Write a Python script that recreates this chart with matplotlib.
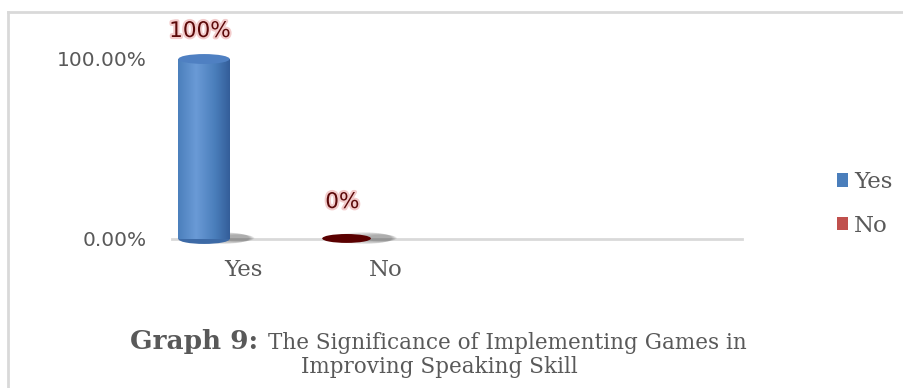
import numpy as np
import matplotlib
matplotlib.use("Agg")
import matplotlib.pyplot as plt
from matplotlib.patches import Ellipse
from matplotlib.lines import Line2D
import matplotlib.patheffects as pe

categories = ["Yes", "No", "", ""]
series_names = ["Yes", "No"]
values = [100, 0]
value_labels = ["100%", "0%"]
yticks = [0, 100]
ytick_labels = ["0.00%", "100.00%"]
colors = ["#4a7ebb", "#c0504d"]
disk_colors = ["#4f80c2", "#5a0000"]

fig = plt.figure(figsize=(9.04, 3.88), dpi=100)
ax = fig.add_axes([172/904, 1-239/388, (742-172)/904, (239-59)/388])

offset = -0.275
width = 0.36
ell_h = 5.5
for i, (v, c, dc, name) in enumerate(zip(values, colors, disk_colors, series_names)):
    xc = i + offset
    # shadow to the right of the base
    for k in range(6):
        ax.add_patch(Ellipse((xc + 0.12 + 0.025*k, 0.5), width*(1.1 - 0.1*k), ell_h*(1.2 - 0.1*k),
                             color="#303030", alpha=0.08, lw=0, clip_on=False, zorder=1))
    bars = ax.bar(xc, v, width=width, color=c, label=name, zorder=2, lw=0)
    if v > 0:
        b = bars[0]
        grad = np.linspace(0, 1, 200)
        shade = 1 - 0.55*np.abs(grad - 0.35)
        img = np.tile(shade, (2, 1))
        im = ax.imshow(img, extent=[xc - width/2, xc + width/2, 0, v], aspect="auto",
                       cmap=matplotlib.colors.LinearSegmentedColormap.from_list(
                           "cyl", ["#2e5590", "#4a7ebb", "#6a9ad6"]),
                       vmin=0.6, vmax=1.0, zorder=3)
        im.set_clip_path(b)
        ax.add_patch(Ellipse((xc, 0), width, ell_h, color="#3d6aa6", lw=0, zorder=2.5, clip_on=False))
        ax.add_patch(Ellipse((xc, v), width, ell_h, color=dc, lw=0, zorder=4, clip_on=False))
    else:
        ax.add_patch(Ellipse((xc, v + 0.3), width*0.95, ell_h*0.9, color=dc, lw=0, zorder=4, clip_on=False))
    ax.text(xc - 0.03, v + (10 if v > 0 else 15), value_labels[i], ha="center", va="bottom",
            fontsize=15.5, color="#5c0a0a", zorder=5,
            path_effects=[pe.withStroke(linewidth=3, foreground="#f3cccc")])

ax.set_xlim(-0.5, 3.5)
ax.set_ylim(0, 100)
ax.set_xticks(range(len(categories)))
ax.set_xticklabels(categories, family="DejaVu Serif", fontsize=16.5, color="#595959")
ax.set_yticks(yticks)
ax.set_yticklabels(ytick_labels, fontsize=14.5, color="#595959")
ax.tick_params(length=0)
ax.tick_params(axis="x", pad=14.5)
ax.tick_params(axis="y", pad=18)
for s in ["top", "right", "left"]:
    ax.spines[s].set_visible(False)
ax.spines["bottom"].set_color("#d9d9d9")
ax.spines["bottom"].set_linewidth(2)
ax.spines["bottom"].set_zorder(0)

leg = ax.legend(loc="center left", bbox_to_anchor=(816/904, 1-204/388), bbox_transform=fig.transFigure,
                frameon=False, prop={"family": "DejaVu Serif", "size": 16.5}, labelcolor="#595959",
                handlelength=0.5, handleheight=0.5, handletextpad=0.25, labelspacing=0.95)

# chart border (left and top)
fig.add_artist(Line2D([7.5/904, 7.5/904], [0, 1-11.5/388], transform=fig.transFigure, color="#d9d9d9", lw=2))
fig.add_artist(Line2D([7.5/904, 1], [1-11.5/388, 1-11.5/388], transform=fig.transFigure, color="#d9d9d9", lw=2))

# caption
fig.text(130/904, 1-341/388, "Graph 9:", family="DejaVu Serif", fontweight="bold", fontsize=19,
         color="#595959", va="center", ha="left")
fig.text(268/904, 1-343/388, "The Significance of Implementing Games in", family="DejaVu Serif",
         fontsize=15.5, color="#595959", va="center", ha="left")
fig.text(439/904, 1-367/388, "Improving Speaking Skill", family="DejaVu Serif",
         fontsize=15.5, color="#595959", va="center", ha="center")

fig.savefig("out.png", dpi=100)
